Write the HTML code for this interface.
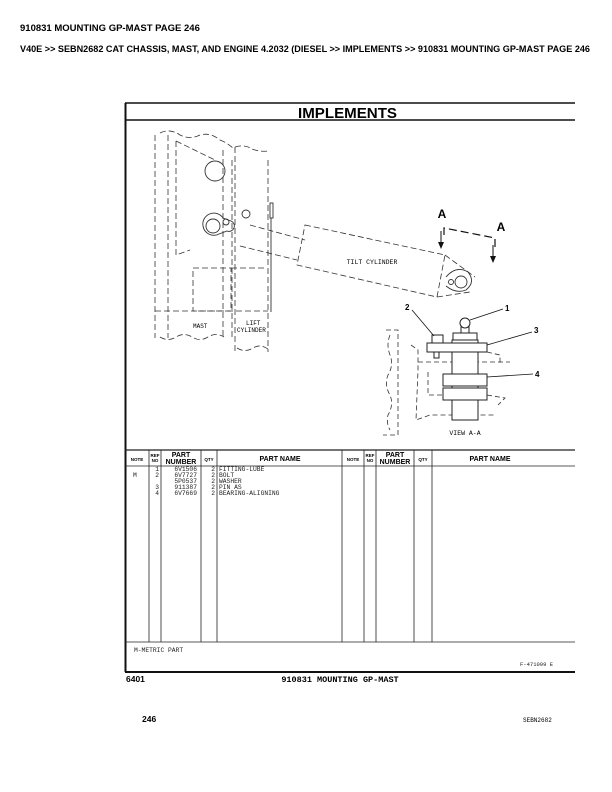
<!DOCTYPE html>
<html><head><meta charset="utf-8"><style>
html,body{margin:0;padding:0;background:#fff;}
svg{display:block;}
.h{font-family:"Liberation Sans",sans-serif;font-weight:bold;}
.m{font-family:"Liberation Mono",monospace;}
</style></head><body>
<svg width="612" height="792" viewBox="0 0 612 792" xmlns="http://www.w3.org/2000/svg">
<text class="h" x="20" y="31" font-size="9.5">910831 MOUNTING GP-MAST PAGE 246</text>
<text class="h" x="20" y="52" font-size="9.5" textLength="570" lengthAdjust="spacingAndGlyphs">V40E &gt;&gt; SEBN2682 CAT CHASSIS, MAST, AND ENGINE 4.2032 (DIESEL &gt;&gt; IMPLEMENTS &gt;&gt; 910831 MOUNTING GP-MAST PAGE 246</text>

<!-- frame -->
<g stroke="#111" fill="none">
<line x1="125" y1="103" x2="575" y2="103" stroke-width="1.5"/>
<line x1="125" y1="120" x2="575" y2="120" stroke-width="1.5"/>
<line x1="125.5" y1="103" x2="125.5" y2="672" stroke-width="2"/>
<line x1="125" y1="672" x2="575" y2="672" stroke-width="2"/>
</g>
<text class="h" x="298" y="118" font-size="15" textLength="99" lengthAdjust="spacingAndGlyphs">IMPLEMENTS</text>

<!-- drawing -->
<g stroke="#333" fill="none" stroke-width="0.8" stroke-dasharray="6,3">
<line x1="155" y1="135" x2="155" y2="338"/>
<line x1="168" y1="135" x2="168" y2="338"/>
<polyline points="176,141 176,255 190,250"/>
<polyline points="176,141 215,160"/>
<path d="M160,133 q10,-5 20,2 q10,5 20,0 q10,-3 20,5 q8,3 15,10"/>
<line x1="235" y1="147" x2="235" y2="352"/>
<line x1="268" y1="160" x2="268" y2="352"/>
<path d="M235,147 q10,-3 17,2 q8,3 16,2"/>
<line x1="223" y1="150" x2="223" y2="338"/>
<line x1="232" y1="160" x2="232" y2="338"/>
<rect x="193" y="268" width="38" height="43"/>
<line x1="231" y1="268" x2="265" y2="268"/>
<line x1="155" y1="311" x2="268" y2="311"/>
<line x1="250" y1="225" x2="305" y2="240"/>
<line x1="240" y1="246" x2="297" y2="260"/>
<polygon points="305,225 445,255 437,297 297,265"/>
<line x1="445" y1="255" x2="475" y2="277"/>
<line x1="437" y1="297" x2="470" y2="292"/>
<path d="M160,337 q8,5 16,0 q8,-5 16,0 q8,5 16,0 q8,-5 16,0"/>
<path d="M237,348 q8,5 16,0 q8,-5 16,2"/>
</g>
<g stroke="#333" fill="none" stroke-width="0.9">
<rect x="270" y="203" width="3" height="15"/>
<line x1="271" y1="218" x2="271" y2="312"/>
<circle cx="215" cy="171" r="10"/>
<circle cx="213" cy="226" r="7"/>
<path d="M203,226 a11,11 0 0 1 20,-8 l8,3 a5,5 0 0 1 -4,10 l-8,3 a11,11 0 0 1 -16,-8z"/>
<circle cx="226" cy="222" r="3"/>
<circle cx="246" cy="214" r="4"/>
<circle cx="461" cy="282" r="6"/>
<circle cx="451" cy="282" r="2.5"/>
<path d="M446,277 q10,-12 22,-5 q8,10 -2,18 q-10,4 -20,-4"/>
</g>
<text class="m" x="372" y="264" font-size="6.5" text-anchor="middle">TILT CYLINDER</text>
<text class="m" x="193" y="328" font-size="6">MAST</text>
<text class="m" x="246" y="325" font-size="6">LIFT</text>
<text class="m" x="237" y="332" font-size="6">CYLINDER</text>

<!-- section A-A -->
<g stroke="#111" fill="none" stroke-width="1">
<polyline points="444,235 444,228 495,238 495,248" stroke-dasharray="8,4" stroke-width="1.2"/>
<line x1="441" y1="231" x2="441" y2="244"/>
<line x1="493" y1="245" x2="493" y2="258"/>
</g>
<polygon points="438,242 444,242 441,249" fill="#111"/>
<polygon points="490,256 496,256 493,263" fill="#111"/>
<text class="h" x="442" y="218" font-size="12" font-weight="normal" text-anchor="middle">A</text>
<text class="h" x="501" y="231" font-size="12" font-weight="normal" text-anchor="middle">A</text>

<!-- view A-A -->
<g stroke="#333" fill="none" stroke-width="0.8" stroke-dasharray="5,3">
<polyline points="386,330 398,330 398,435 383,435"/>
<path d="M390,335 q-4,10 0,20 q4,10 -2,20 q-4,10 2,20 q4,10 -2,20 q-2,8 2,15"/>
<polyline points="411,345 418,350 418,370 416,420 430,415 495,415"/>
<polyline points="418,362 510,362"/>
<polyline points="428,372 428,395 478,395"/>
<polyline points="487,352 500,355 500,365"/>
<polyline points="487,395 505,398 498,405"/>
</g>
<g stroke="#222" fill="#fff" stroke-width="1">
<rect x="452" y="340" width="26" height="80"/>
<rect x="427" y="343" width="60" height="9"/>
<rect x="443" y="374" width="44" height="12"/>
<rect x="443" y="388" width="44" height="12"/>
<rect x="432" y="335" width="11" height="8"/>
<rect x="453" y="333" width="24" height="7"/>
<rect x="461" y="327" width="8" height="6"/>
<circle cx="465" cy="323" r="5"/>
<rect x="434" y="352" width="5" height="6"/>
</g>
<g stroke="#111" stroke-width="0.8">
<line x1="470" y1="320" x2="503" y2="309"/>
<line x1="412" y1="310" x2="434" y2="336"/>
<line x1="487" y1="345" x2="532" y2="332"/>
<line x1="487" y1="377" x2="533" y2="374"/>
</g>
<g class="h" font-size="8" font-weight="normal">
<text x="505" y="311">1</text>
<text x="405" y="310">2</text>
<text x="534" y="333">3</text>
<text x="535" y="377">4</text>
</g>
<text class="m" x="465" y="435" font-size="6.5" text-anchor="middle">VIEW A-A</text>

<!-- table -->
<g stroke="#222" stroke-width="0.8" fill="none">
<line x1="125" y1="450" x2="575" y2="450" stroke-width="1.2"/>
<line x1="125" y1="466" x2="575" y2="466"/>
<line x1="125" y1="642" x2="575" y2="642"/>
<line x1="149" y1="450" x2="149" y2="642"/>
<line x1="161" y1="450" x2="161" y2="642"/>
<line x1="201" y1="450" x2="201" y2="642"/>
<line x1="217" y1="450" x2="217" y2="642"/>
<line x1="342" y1="450" x2="342" y2="642"/>
<line x1="364" y1="450" x2="364" y2="642"/>
<line x1="376" y1="450" x2="376" y2="642"/>
<line x1="414" y1="450" x2="414" y2="642"/>
<line x1="432" y1="450" x2="432" y2="642"/>
</g>
<g class="h" font-size="4.5" text-anchor="middle">
<text x="137" y="461">NOTE</text>
<text x="155" y="457">REF</text><text x="155" y="462">NO</text>
<text x="209" y="461">QTY</text>
<text x="353" y="461">NOTE</text>
<text x="370" y="457">REF</text><text x="370" y="462">NO</text>
<text x="423" y="461">QTY</text>
</g>
<g class="h" font-size="7" text-anchor="middle">
<text x="181" y="457">PART</text><text x="181" y="464">NUMBER</text>
<text x="280" y="461">PART NAME</text>
<text x="395" y="457">PART</text><text x="395" y="464">NUMBER</text>
<text x="490" y="461">PART NAME</text>
</g>
<g class="m" font-size="6.3" fill="#222">
<text x="159" y="471" text-anchor="end">1</text><text x="197" y="471" text-anchor="end">6V1506</text><text x="215" y="471" text-anchor="end">2</text><text x="219" y="471">FITTING-LUBE</text>
<text x="133" y="477">M</text>
<text x="159" y="477" text-anchor="end">2</text><text x="197" y="477" text-anchor="end">6V7727</text><text x="215" y="477" text-anchor="end">2</text><text x="219" y="477">BOLT</text>
<text x="197" y="483" text-anchor="end">5P0537</text><text x="215" y="483" text-anchor="end">2</text><text x="219" y="483">WASHER</text>
<text x="159" y="489" text-anchor="end">3</text><text x="197" y="489" text-anchor="end">911387</text><text x="215" y="489" text-anchor="end">2</text><text x="219" y="489">PIN AS</text>
<text x="159" y="495" text-anchor="end">4</text><text x="197" y="495" text-anchor="end">6V7669</text><text x="215" y="495" text-anchor="end">2</text><text x="219" y="495">BEARING-ALIGNING</text>
<text x="134" y="652">M-METRIC PART</text>
<text x="520" y="666" font-size="5.5">F-471099 E</text>
</g>
<text class="h" x="126" y="682" font-size="8.5">6401</text>
<text class="m" x="340" y="682" font-size="8.5" font-weight="bold" text-anchor="middle">910831 MOUNTING GP-MAST</text>
<text class="h" x="142" y="722" font-size="8.5">246</text>
<text class="m" x="523" y="722" font-size="6">SEBN2682</text>
</svg>
</body></html>
